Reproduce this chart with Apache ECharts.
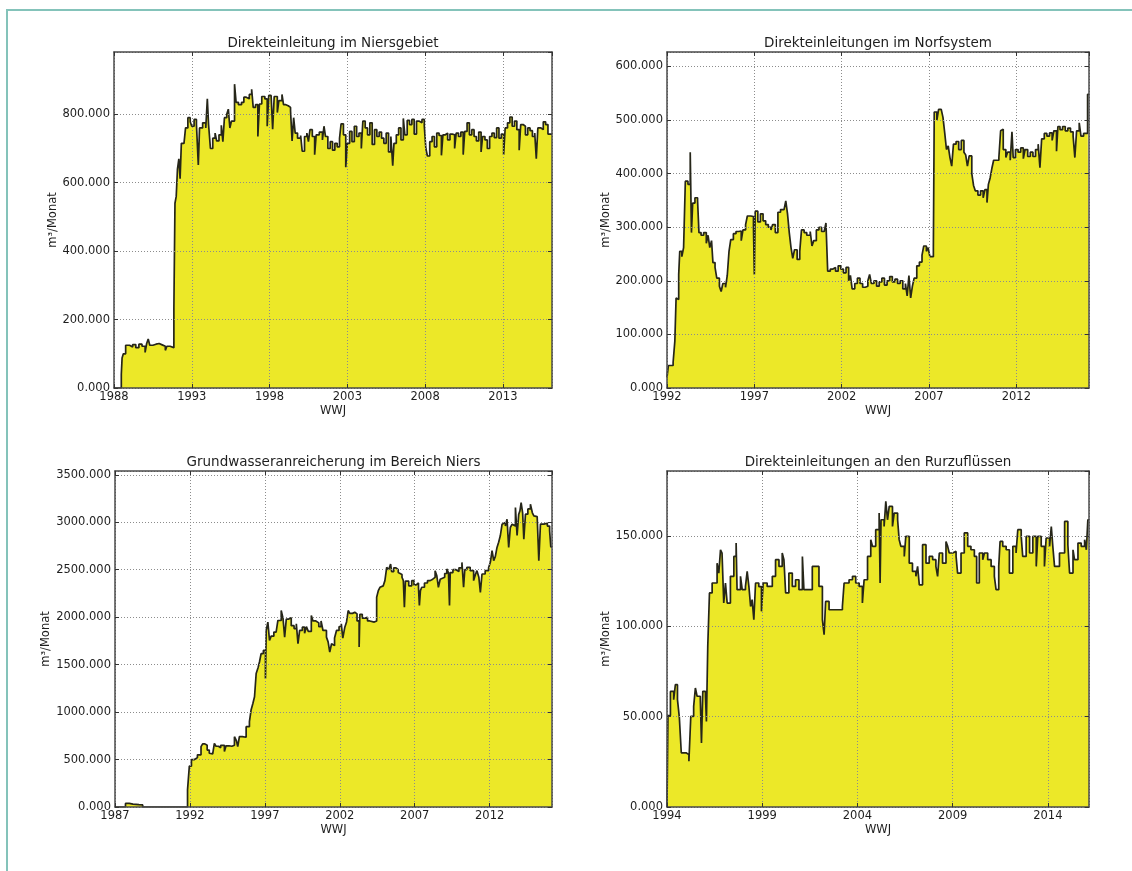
<!DOCTYPE html>
<html><head><meta charset="utf-8">
<script src="https://cdn.jsdelivr.net/npm/echarts@6/dist/echarts.min.js"></script>
<style>
html,body{margin:0;padding:0;background:#fff;}
#frame{position:absolute;left:6px;top:9px;right:0;bottom:0;border-top:2px solid #84c3ba;border-left:2px solid #84c3ba;}
#chart{position:absolute;left:0;top:0;width:1132px;height:871px;}
</style></head>
<body><div id="frame"></div><div id="chart"></div>
<script>
const FONT = 'DejaVu Sans';
const X_END = 2016.16;

// Direkteinleitung im Niersgebiet (1000 m³/Monat), step changes
const niersYears = [1988.0,1988.47,1988.52,1988.6,1988.75,1989.0,1989.2,1989.4,1989.6,1989.8,1990.0,1990.1,1990.2,1990.3,1990.5,1990.7,1990.9,1991.1,1991.3,1991.4,1991.6,1991.85,1991.92,1992.0,1992.08,1992.17,1992.25,1992.33,1992.5,1992.6,1992.75,1992.9,1993.0,1993.15,1993.3,1993.42,1993.5,1993.7,1993.9,1994.0,1994.08,1994.2,1994.35,1994.5,1994.6,1994.75,1994.9,1995.0,1995.1,1995.25,1995.35,1995.45,1995.55,1995.75,1995.85,1996.0,1996.2,1996.35,1996.5,1996.7,1996.85,1996.95,1997.1,1997.25,1997.35,1997.5,1997.7,1997.85,1997.95,1998.1,1998.2,1998.3,1998.5,1998.6,1998.8,1998.9,1999.05,1999.2,1999.35,1999.45,1999.55,1999.65,1999.8,2000.0,2000.1,2000.25,2000.4,2000.5,2000.6,2000.75,2000.9,2001.0,2001.2,2001.4,2001.5,2001.6,2001.75,2001.9,2002.05,2002.2,2002.35,2002.5,2002.6,2002.75,2002.9,2003.0,2003.15,2003.3,2003.45,2003.6,2003.75,2003.9,2004.0,2004.15,2004.3,2004.45,2004.6,2004.75,2004.9,2005.05,2005.2,2005.35,2005.5,2005.65,2005.8,2005.92,2006.0,2006.15,2006.3,2006.45,2006.6,2006.7,2006.85,2007.0,2007.15,2007.3,2007.45,2007.6,2007.8,2007.95,2008.05,2008.15,2008.3,2008.45,2008.6,2008.75,2008.9,2009.05,2009.15,2009.3,2009.45,2009.6,2009.75,2009.9,2010.0,2010.15,2010.3,2010.45,2010.55,2010.7,2010.85,2011.0,2011.15,2011.3,2011.45,2011.6,2011.7,2011.85,2012.0,2012.15,2012.3,2012.45,2012.6,2012.75,2012.9,2013.05,2013.15,2013.3,2013.45,2013.6,2013.75,2013.9,2014.05,2014.15,2014.3,2014.45,2014.6,2014.75,2014.9,2015.05,2015.15,2015.25,2015.45,2015.6,2015.75,2015.9,2016.16];
const niersValues = [0,40,88,100,125,120,127,118,128,122,104,130,143,125,128,130,126,122,110,122,118,234,540,560,640,670,612,715,712,760,790,778,765,785,770,652,760,775,760,845,770,700,730,745,722,740,768,720,790,800,815,760,780,888,835,828,835,850,845,858,873,820,828,735,830,852,845,765,855,850,756,852,805,840,858,828,825,820,810,722,790,745,730,738,692,735,745,720,755,735,682,740,748,725,765,735,700,720,695,715,705,730,772,740,645,715,750,720,765,735,745,700,780,760,740,775,712,755,735,748,730,715,745,690,735,650,715,740,760,725,788,740,782,770,785,742,780,775,785,765,700,678,720,735,705,745,738,680,740,745,725,742,740,700,745,735,748,682,750,775,740,755,735,722,748,690,735,725,700,735,745,732,760,730,742,682,760,775,792,765,780,755,695,770,765,740,760,752,735,745,670,760,755,778,770,742,742];

// Direkteinleitungen im Norfsystem
const norfYears = [1992.0,1992.08,1992.35,1992.45,1992.52,1992.6,1992.67,1992.73,1992.85,1992.95,1993.05,1993.2,1993.33,1993.4,1993.47,1993.6,1993.75,1993.83,1993.95,1994.1,1994.25,1994.35,1994.45,1994.55,1994.63,1994.75,1994.85,1995.0,1995.1,1995.2,1995.35,1995.45,1995.55,1995.65,1995.8,1995.95,1996.1,1996.25,1996.35,1996.5,1996.6,1996.8,1996.95,1997.0,1997.05,1997.2,1997.35,1997.5,1997.65,1997.8,1997.95,1998.05,1998.2,1998.35,1998.5,1998.7,1998.8,1998.9,1999.0,1999.1,1999.2,1999.3,1999.45,1999.6,1999.7,1999.85,2000.0,2000.2,2000.3,2000.4,2000.55,2000.7,2000.85,2001.0,2001.1,2001.2,2001.35,2001.5,2001.65,2001.8,2001.95,2002.1,2002.25,2002.4,2002.5,2002.6,2002.75,2002.9,2003.05,2003.2,2003.35,2003.5,2003.6,2003.7,2003.85,2004.0,2004.15,2004.3,2004.45,2004.6,2004.75,2004.9,2005.05,2005.2,2005.35,2005.5,2005.65,2005.75,2005.85,2005.95,2006.05,2006.15,2006.3,2006.45,2006.6,2006.7,2006.85,2006.95,2007.05,2007.25,2007.3,2007.45,2007.55,2007.7,2007.8,2007.9,2008.0,2008.1,2008.2,2008.3,2008.4,2008.55,2008.7,2008.85,2009.0,2009.1,2009.2,2009.3,2009.45,2009.55,2009.65,2009.8,2009.95,2010.1,2010.2,2010.32,2010.4,2010.5,2010.6,2010.7,2010.85,2011.0,2011.1,2011.2,2011.25,2011.4,2011.5,2011.65,2011.75,2011.82,2011.95,2012.1,2012.25,2012.4,2012.5,2012.65,2012.8,2012.95,2013.1,2013.25,2013.35,2013.45,2013.6,2013.75,2013.9,2014.05,2014.15,2014.3,2014.38,2014.5,2014.65,2014.8,2014.95,2015.1,2015.25,2015.35,2015.45,2015.6,2015.7,2015.85,2016.08,2016.16];
const norfValues = [20,42,48,88,168,165,212,255,245,262,386,380,440,290,345,355,350,290,285,290,270,285,262,275,234,225,205,190,180,195,188,210,255,277,288,292,293,275,295,305,321,320,300,212,330,310,325,312,305,300,295,305,290,328,333,330,349,325,290,262,242,258,240,255,295,290,285,292,265,275,295,300,292,295,308,218,222,225,218,228,222,215,225,200,210,185,195,205,195,188,190,200,212,195,200,190,198,205,192,200,208,198,203,195,200,185,195,172,210,168,190,205,228,235,248,265,255,262,245,262,515,500,520,523,505,476,445,452,430,414,455,460,445,462,440,435,414,433,400,378,368,360,368,355,370,346,380,392,410,425,425,430,480,483,445,430,440,425,478,430,445,440,448,428,445,432,440,432,445,455,411,465,475,470,476,462,480,442,488,482,488,480,485,478,470,430,480,495,470,475,548,548];

// Grundwasseranreicherung im Bereich Niers
const grundYears = [1987.0,1987.7,1987.95,1988.2,1988.6,1988.85,1991.84,1991.96,1992.1,1992.3,1992.5,1992.74,1992.85,1993.0,1993.15,1993.29,1993.4,1993.52,1993.63,1993.74,1993.9,1994.05,1994.3,1994.41,1994.6,1994.8,1994.97,1995.1,1995.19,1995.3,1995.5,1995.75,1995.97,1996.08,1996.2,1996.31,1996.42,1996.55,1996.64,1996.75,1996.9,1997.04,1997.09,1997.2,1997.31,1997.42,1997.6,1997.75,1997.87,1998.09,1998.21,1998.32,1998.43,1998.6,1998.76,1998.95,1999.1,1999.21,1999.32,1999.5,1999.65,1999.77,1999.9,2000.1,2000.21,2000.4,2000.6,2000.75,2000.88,2001.11,2001.22,2001.33,2001.45,2001.55,2001.65,2001.78,2001.95,2002.1,2002.2,2002.33,2002.45,2002.56,2002.67,2002.85,2003.0,2003.15,2003.29,2003.34,2003.5,2003.7,2003.85,2004.0,2004.12,2004.3,2004.46,2004.57,2004.68,2004.8,2004.9,2005.01,2005.13,2005.26,2005.39,2005.46,2005.6,2005.75,2005.9,2006.02,2006.15,2006.24,2006.31,2006.38,2006.6,2006.8,2006.95,2007.1,2007.25,2007.31,2007.38,2007.47,2007.65,2007.85,2008.03,2008.2,2008.36,2008.47,2008.58,2008.7,2008.81,2009.0,2009.14,2009.25,2009.32,2009.37,2009.55,2009.75,2009.95,2010.15,2010.26,2010.34,2010.48,2010.7,2010.93,2011.05,2011.15,2011.28,2011.38,2011.49,2011.7,2011.93,2012.05,2012.16,2012.27,2012.38,2012.49,2012.6,2012.71,2012.83,2012.94,2013.05,2013.16,2013.27,2013.38,2013.5,2013.62,2013.72,2013.83,2013.94,2014.02,2014.1,2014.2,2014.28,2014.39,2014.55,2014.72,2014.85,2014.95,2015.05,2015.17,2015.28,2015.39,2015.62,2015.85,2016.0,2016.08,2016.16];
const grundValues = [0,38,30,25,22,0,180,430,500,520,550,636,665,650,600,566,560,549,670,640,625,650,584,645,640,650,741,700,636,741,735,846,899,1021,1090,1161,1406,1470,1528,1616,1650,1353,1860,1948,1755,1800,1843,1830,1965,2070,1990,1790,1980,1995,1910,1880,1930,1720,1860,1895,1830,1900,1850,2018,1960,1940,1900,1960,1860,1790,1740,1633,1720,1700,1780,1860,1900,1930,1780,1890,1950,2070,2040,2052,2035,1960,1685,2030,1990,2000,1960,1965,1948,1960,2210,2280,2315,2330,2350,2385,2525,2500,2560,2480,2520,2500,2470,2450,2420,2385,2105,2380,2330,2385,2340,2360,2315,2123,2280,2315,2360,2385,2400,2420,2490,2440,2315,2400,2420,2460,2508,2470,2123,2470,2500,2480,2520,2577,2315,2500,2525,2490,2385,2450,2490,2420,2262,2455,2490,2520,2580,2700,2595,2640,2735,2790,2857,2980,2997,2960,3032,2735,2945,2980,2960,3155,2860,3085,3120,3207,3100,2822,3085,3140,3190,3100,3067,3060,3050,2595,2980,2990,2960,2910,2740,2740];

// Direkteinleitungen an den Rurzuflüssen
const rurYears = [1994.0,1994.05,1994.18,1994.35,1994.44,1994.55,1994.65,1994.75,1995.0,1995.15,1995.25,1995.4,1995.49,1995.58,1995.75,1995.81,1995.88,1996.02,1996.07,1996.14,1996.23,1996.37,1996.63,1996.72,1996.81,1996.89,1996.98,1997.07,1997.16,1997.33,1997.51,1997.63,1997.68,1997.86,1997.95,1998.12,1998.21,1998.3,1998.39,1998.47,1998.56,1998.65,1998.82,1998.96,1999.05,1999.26,1999.53,1999.7,1999.88,2000.05,2000.14,2000.23,2000.4,2000.58,2000.75,2000.93,2001.11,2001.19,2001.46,2001.63,2001.81,2001.98,2002.16,2002.25,2002.33,2002.51,2003.04,2003.21,2003.3,2003.56,2003.74,2003.91,2004.09,2004.26,2004.35,2004.53,2004.7,2004.79,2004.96,2005.14,2005.19,2005.24,2005.4,2005.49,2005.58,2005.67,2005.84,2005.93,2006.11,2006.19,2006.28,2006.46,2006.54,2006.72,2006.89,2007.07,2007.16,2007.25,2007.42,2007.6,2007.77,2007.95,2008.12,2008.21,2008.3,2008.47,2008.65,2008.74,2008.82,2009.0,2009.18,2009.26,2009.44,2009.61,2009.79,2009.96,2010.14,2010.26,2010.4,2010.58,2010.67,2010.84,2011.02,2011.19,2011.28,2011.42,2011.49,2011.63,2011.81,2011.98,2012.16,2012.33,2012.42,2012.6,2012.68,2012.86,2013.04,2013.21,2013.39,2013.47,2013.65,2013.82,2013.91,2014.09,2014.18,2014.26,2014.35,2014.61,2014.88,2015.05,2015.14,2015.32,2015.4,2015.58,2015.75,2015.93,2016.02,2016.1,2016.16];
const rurValues = [0,50.6,64,59.4,67.7,59.4,49.3,30,29,25.3,50.2,55.7,65.9,61.3,59.4,35.4,64,61.3,47.4,88.9,118.5,124,135,129.5,142.4,140.6,112.9,124,112.9,127.7,138.7,146.1,120.3,127.7,120.3,122.1,130.4,122.1,111,114.8,103.7,124,122,108.3,124,122.1,127.7,136.9,133.2,140.6,136.9,118.5,129.5,122.1,125.8,120.3,138.7,120.3,120.3,133.2,133.2,122.1,103.7,95.4,113.8,109.2,109.2,111,124,125.8,127.7,124,122.1,112.9,125.8,138.7,148,144.3,153.5,162.7,124,159,155.3,169.2,159,166.4,155.3,162.7,159,148,144.3,138.7,149.8,135,130.4,127.7,133.2,123,145.2,135,138.7,136.9,133.2,127.7,140.6,135,147,144.3,140.6,141.5,138.7,129.5,140.6,151.7,144.3,142.4,138.7,124,140.6,136.9,140.6,136.9,133.2,127.7,120.3,133.2,147,144.3,142.4,129.5,144.3,140.6,153.5,149.8,138.7,149.8,140.6,149.8,133.2,149.8,144.3,133.2,148.9,144.3,155.3,144.3,133.2,140.6,158.1,145.2,129.5,142.4,136.9,146.1,144.3,148,142.4,159,159];

const titles = ['Direkteinleitung im Niersgebiet','Direkteinleitungen im Norfsystem','Grundwasseranreicherung im Bereich Niers','Direkteinleitungen an den Rurzuflüssen'];
const xStarts = [1988, 1992, 1987, 1994];
const yMaxes = [982, 627, 3540, 186];
const ySteps = [200, 100, 500, 50];
const yearsList = [niersYears, norfYears, grundYears, rurYears];
const valuesList = [niersValues, norfValues, grundValues, rurValues];

const grids = [
  {left:114, top:52, width:438, height:336},
  {left:667, top:52, width:422, height:336},
  {left:115, top:471, width:437, height:336},
  {left:667, top:471, width:422, height:336}
];
const nameGaps = [53, 52, 61, 52];

const textStyle = {fontFamily: FONT, fontSize: 11.5, color: '#1e1e1e'};
const borderLine = {show:true, onZero:false, lineStyle:{color:'#4a4a4a', width:1.5}};
const ticks = {show:true, inside:true, length:4, lineStyle:{color:'#333', width:1}};
const gridLine = {show:true, lineStyle:{color:'#8c8c8c', type:[1,2], width:1}};

const xAxes = [], yAxes = [], series = [], graphics = [];
for (let i = 0; i < 4; i++) {
  const x0 = xStarts[i];
  const common = {type:'value', gridIndex:i, min:0, max:+(X_END - x0).toFixed(3), interval:5, z:5};
  xAxes.push(Object.assign({}, common, {
    position:'bottom', axisLine:borderLine, axisTick:ticks, splitLine:gridLine,
    axisLabel:Object.assign({formatter:v => String(Math.round(v + x0)), showMaxLabel:false, margin:3}, textStyle),
    name:'WWJ', nameLocation:'middle', nameGap:17, nameTextStyle:textStyle
  }));
  xAxes.push(Object.assign({}, common, {
    position:'top', axisLine:borderLine, axisTick:ticks, splitLine:{show:false}, axisLabel:{show:false}
  }));
  const yc = {type:'value', gridIndex:i, min:0, max:yMaxes[i], interval:ySteps[i], z:5};
  yAxes.push(Object.assign({}, yc, {
    position:'left', axisLine:borderLine, axisTick:ticks, splitLine:gridLine,
    axisLabel:Object.assign({formatter:v => v.toFixed(3), showMaxLabel:false, margin:4}, textStyle),
    name:'m³/Monat', nameLocation:'middle', nameRotate:90, nameGap:nameGaps[i], nameTextStyle:textStyle
  }));
  yAxes.push(Object.assign({}, yc, {
    position:'right', axisLine:borderLine, axisTick:ticks, splitLine:{show:false}, axisLabel:{show:false}
  }));
  const yrs = yearsList[i], vals = valuesList[i];
  series.push({
    type:'line', xAxisIndex:2*i, yAxisIndex:2*i, step:'end', symbol:'none', silent:true,
    data: yrs.map((t, k) => [t - x0, vals[k]]),
    lineStyle:{color:'#262619', width:1.7},
    areaStyle:{color:'#ece828', opacity:1},
    z:2
  });
  const g = grids[i];
  graphics.push({
    type:'text', x:g.left + g.width/2, y:g.top - 9, z:10,
    style:{text:titles[i], fontFamily:FONT, fontSize:13.5, fill:'#1e1e1e', align:'center', verticalAlign:'middle'}
  });
}

const chart = echarts.init(document.getElementById('chart'), null, {renderer:'canvas'});
chart.setOption({
  animation:false,
  backgroundColor:'transparent',
  grid: grids,
  xAxis: xAxes,
  yAxis: yAxes,
  series: series,
  graphic: graphics
});
</script></body></html>
